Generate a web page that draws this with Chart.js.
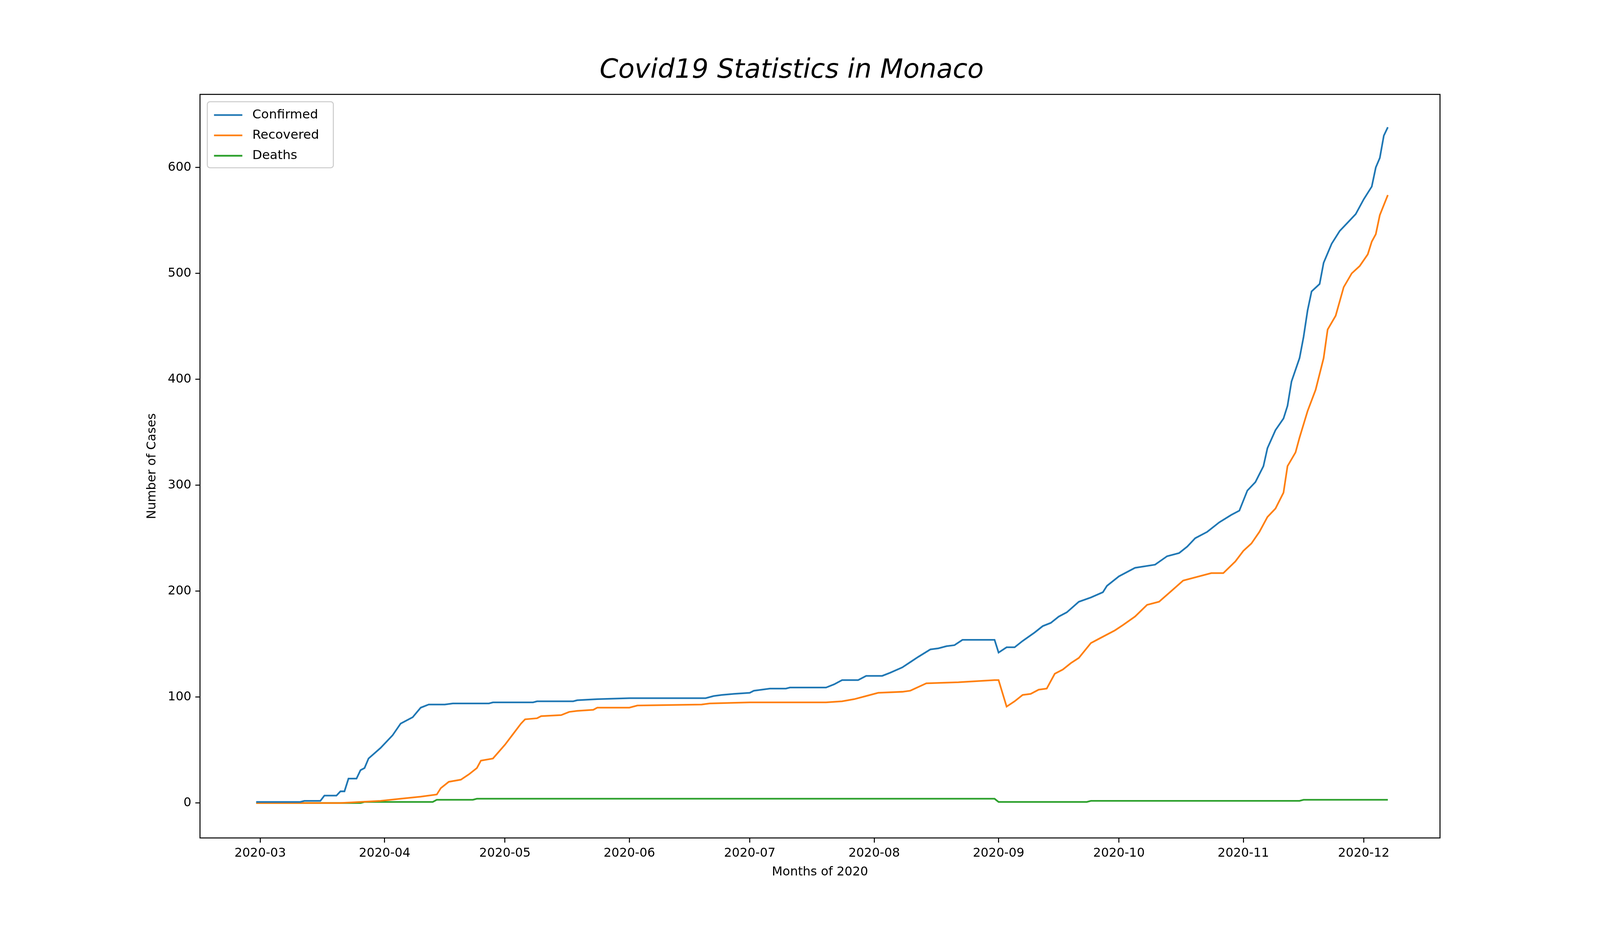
<!DOCTYPE html>
<html>
<head>
<meta charset="utf-8">
<script src="https://cdn.jsdelivr.net/npm/chart.js@4/dist/chart.umd.min.js"></script>
<style>
  html, body { margin: 0; padding: 0; background: #fff; overflow: hidden; }
  #wrap { width: 100vw; height: 100vh; position: relative; }
</style>
</head>
<body>
<div id="wrap"><canvas id="chart"></canvas></div>
<script>
// day offsets from 2020-03-01
const monthDays = [0, 31, 61, 92, 122, 153, 184, 214, 245, 275];
const monthLabels = ["2020-03", "2020-04", "2020-05", "2020-06", "2020-07",
                     "2020-08", "2020-09", "2020-10", "2020-11", "2020-12"];

const confirmedDays = [-1, 10, 11, 15, 16, 19, 20, 21, 22, 24, 25, 26, 27, 30, 33, 35, 38, 40, 42, 46, 48, 57, 58, 68, 69, 78, 79, 84, 92, 111, 113, 115, 118, 122, 123, 125, 127, 131, 132, 141, 143, 145, 149, 151, 155, 157, 160, 162, 164, 167, 169, 171, 173, 175, 183, 184, 186, 188, 190, 193, 195, 197, 199, 201, 204, 207, 210, 211, 214, 218, 223, 226, 229, 231, 233, 236, 239, 242, 244, 246, 248, 250, 251, 253, 255, 256, 257, 259, 260, 261, 262, 264, 265, 267, 269, 271, 273, 275, 277, 278, 279, 280, 281];
const confirmedVals = [1, 1, 2, 2, 7, 7, 11, 11, 23, 23, 31, 33, 42, 52, 64, 75, 81, 90, 93, 93, 94, 94, 95, 95, 96, 96, 97, 98, 99, 99, 101, 102, 103, 104, 106, 107, 108, 108, 109, 109, 112, 116, 116, 120, 120, 123, 128, 133, 138, 145, 146, 148, 149, 154, 154, 142, 147, 147, 153, 161, 167, 170, 176, 180, 190, 194, 199, 205, 214, 222, 225, 233, 236, 242, 250, 256, 265, 272, 276, 295, 303, 318, 335, 352, 363, 375, 398, 420, 440, 465, 483, 490, 510, 528, 540, 548, 556, 570, 582, 600, 609, 630, 638];

const recoveredDays = [-1, 20, 30, 35, 40, 44, 45, 47, 50, 52, 54, 55, 58, 61, 63, 65, 66, 69, 70, 75, 77, 79, 83, 84, 92, 94, 110, 112, 122, 141, 145, 148, 151, 154, 160, 162, 166, 174, 183, 184, 186, 188, 190, 192, 194, 196, 198, 200, 202, 204, 207, 209, 213, 215, 218, 221, 224, 227, 230, 237, 240, 243, 245, 247, 249, 251, 253, 255, 256, 258, 259, 261, 263, 265, 266, 268, 270, 272, 274, 276, 277, 278, 279, 281];
const recoveredVals = [0, 0, 2, 4, 6, 8, 14, 20, 22, 27, 33, 40, 42, 55, 65, 75, 79, 80, 82, 83, 86, 87, 88, 90, 90, 92, 93, 94, 95, 95, 96, 98, 101, 104, 105, 106, 113, 114, 116, 116, 91, 96, 102, 103, 107, 108, 122, 126, 132, 137, 151, 155, 163, 168, 176, 187, 190, 200, 210, 217, 217, 228, 238, 245, 256, 270, 278, 293, 318, 331, 345, 370, 390, 420, 447, 460, 487, 500, 507, 518, 530, 537, 555, 574];

const deathsDays = [-1, 25, 26, 43, 44, 53, 54, 183, 184, 206, 207, 259, 260, 281];
const deathsVals = [0, 0, 1, 1, 3, 3, 4, 4, 1, 1, 2, 2, 3, 3];

const seriesNames = ["Confirmed", "Recovered", "Deaths"];
const seriesColors = ["#1f77b4", "#ff7f0e", "#2ca02c"];

// scale everything to the real viewport width (reference is 4800 wide)
const s = window.innerWidth / 4800;

function toPoints(days, vals) {
  const n = Math.min(days.length, vals.length);
  const pts = [];
  for (let i = 0; i < n; i++) pts.push({ x: days[i], y: vals[i] });
  return pts;
}

const insideLegend = {
  id: "insideLegend",
  afterDraw(chart) {
    const ctx = chart.ctx;
    const a = chart.chartArea;
    const x0 = a.left + 22 * s, y0 = a.top + 22 * s;
    const w = 378 * s, h = 198 * s;
    ctx.save();
    ctx.fillStyle = "rgba(255,255,255,0.8)";
    ctx.strokeStyle = "#cccccc";
    ctx.lineWidth = 3 * s;
    ctx.beginPath();
    ctx.roundRect(x0, y0, w, h, 8 * s);
    ctx.fill();
    ctx.stroke();
    ctx.font = (38 * s) + "px 'DejaVu Sans'";
    ctx.textBaseline = "middle";
    chart.data.datasets.forEach((ds, i) => {
      const cy = y0 + 40 * s + i * 61 * s;
      ctx.strokeStyle = ds.borderColor;
      ctx.lineWidth = 5 * s;
      ctx.beginPath();
      ctx.moveTo(x0 + 20 * s, cy);
      ctx.lineTo(x0 + 105 * s, cy);
      ctx.stroke();
      ctx.fillStyle = "#000";
      ctx.fillText(ds.label, x0 + 135 * s, cy);
    });
    ctx.restore();
  }
};

const frame = {
  id: "frame",
  afterDraw(chart) {
    const a = chart.chartArea;
    const ctx = chart.ctx;
    ctx.save();
    ctx.strokeStyle = "#000";
    ctx.lineWidth = 3 * s;
    ctx.strokeRect(a.left, a.top, a.right - a.left, a.bottom - a.top);
    ctx.restore();
  }
};

const datasets = [
  toPoints(confirmedDays, confirmedVals),
  toPoints(recoveredDays, recoveredVals),
  toPoints(deathsDays, deathsVals)
].map((pts, i) => ({
  label: seriesNames[i],
  data: pts,
  borderColor: seriesColors[i],
  backgroundColor: seriesColors[i],
  borderWidth: 5 * s,
  pointRadius: 0,
  tension: 0,
  fill: false
}));

Chart.defaults.font.family = "'DejaVu Sans'";
Chart.defaults.color = "#000";

new Chart(document.getElementById("chart"), {
  type: "line",
  data: { datasets: datasets },
  plugins: [insideLegend, frame],
  options: {
    responsive: true,
    maintainAspectRatio: false,
    animation: false,
    layout: { padding: { left: 430 * s, right: 480 * s, top: 0, bottom: 170 * s } },
    plugins: {
      legend: { display: false },
      tooltip: { enabled: false },
      title: {
        display: true,
        text: "Covid19 Statistics in Monaco",
        font: { size: 80 * s, style: "italic", weight: "normal" },
        padding: { top: 165 * s, bottom: 22 * s }
      }
    },
    scales: {
      x: {
        type: "linear",
        min: -15,
        max: 294,
        afterBuildTicks(axis) {
          axis.ticks = monthDays.map(v => ({ value: v }));
        },
        afterFit(axis) { axis.height = 130 * s; },
        ticks: {
          font: { size: 37 * s },
          maxRotation: 0,
          autoSkip: false,
          padding: 10 * s,
          callback(value) {
            const i = monthDays.indexOf(value);
            return i >= 0 ? monthLabels[i] : "";
          }
        },
        grid: { drawOnChartArea: false, tickLength: 14 * s, color: "#000", lineWidth: 3 * s },
        border: { display: false },
        title: { display: true, text: "Months of 2020", font: { size: 37 * s }, padding: { top: 4 * s } }
      },
      y: {
        min: -33,
        max: 669,
        afterBuildTicks(axis) {
          axis.ticks = [0, 100, 200, 300, 400, 500, 600].map(v => ({ value: v }));
        },
        afterFit(axis) { axis.width = 170 * s; },
        ticks: { font: { size: 37 * s }, padding: 12 * s },
        grid: { drawOnChartArea: false, tickLength: 14 * s, color: "#000", lineWidth: 3 * s },
        border: { display: false },
        title: { display: true, text: "Number of Cases", font: { size: 37 * s }, padding: { bottom: 0 } }
      }
    }
  }
});
</script>
</body>
</html>
